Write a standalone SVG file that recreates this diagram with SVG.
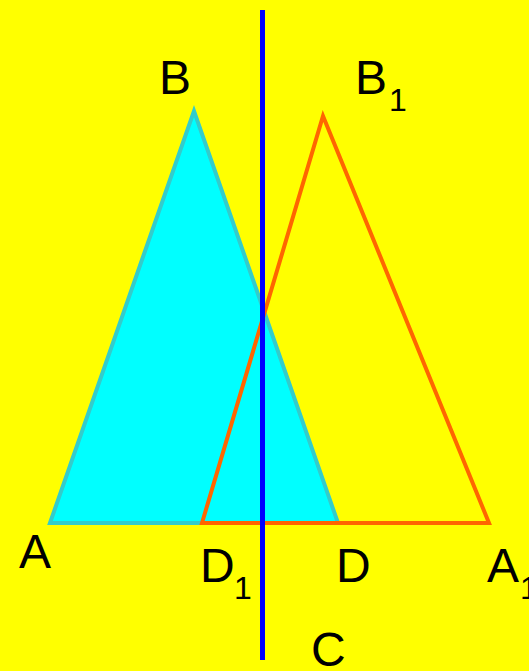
<svg xmlns="http://www.w3.org/2000/svg" width="529" height="671" viewBox="0 0 529 671">
<style>
.lbl{font-family:"Liberation Sans",Arial,sans-serif;font-size:48px;fill:#000}
.sub{font-size:32px}
</style>
<rect x="0" y="0" width="529" height="671" fill="#ffff00"/>
<g id="triangle-ABD">
<polygon points="50,523 194,111 338,523" fill="#00ffff" stroke="#33cccc" stroke-width="4" stroke-linejoin="miter"/>
</g>
<g id="triangle-A1B1D1">
<polygon points="202,523 323,116 489,523" fill="none" stroke="#ff6600" stroke-width="4"/>
</g>
<g id="connectors">
<line x1="262.5" y1="10" x2="262.5" y2="660" stroke="#0000ff" stroke-width="5"/>
</g>
<g id="labels">
<text class="lbl" x="159" y="94">B</text>
<text class="lbl" x="355" y="94">B<tspan class="sub" x="389" y="111">1</tspan></text>
<text class="lbl" x="19" y="568">A</text>
<text class="lbl" x="200" y="582">D<tspan class="sub" x="234" y="599">1</tspan></text>
<text class="lbl" x="336" y="582">D</text>
<text class="lbl" x="487" y="582">A<tspan class="sub" x="520" y="599">1</tspan></text>
<text class="lbl" x="311" y="666">C</text>
</g>
</svg>
